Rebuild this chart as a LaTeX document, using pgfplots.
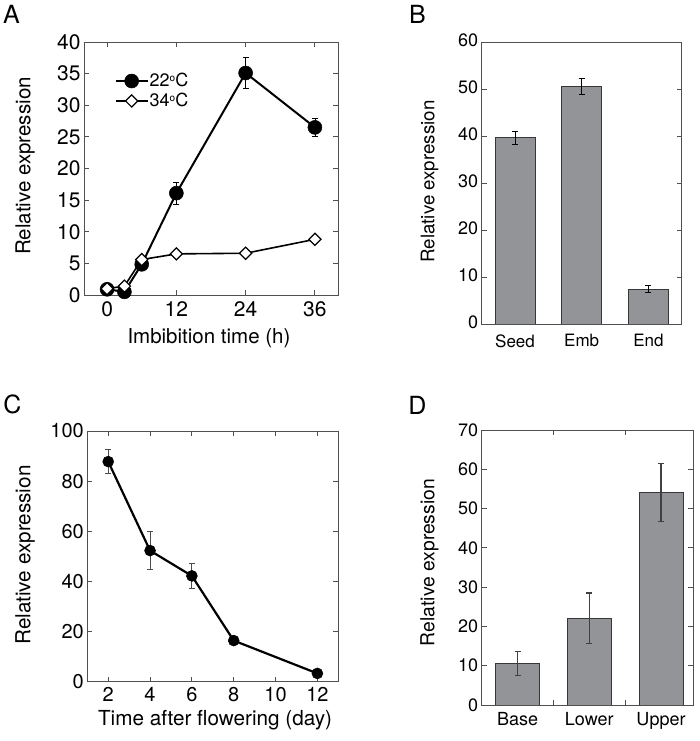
\documentclass[border=0pt]{standalone}
\usepackage{fontspec}
\setmainfont{TeX Gyre Heros}
\usepackage{pgfplots}
\pgfplotsset{compat=1.18}
\usepackage{pgfplotstable}

\definecolor{axisgray}{RGB}{80,80,80}
\definecolor{bargray}{RGB}{147,148,152}
\definecolor{baredge}{RGB}{55,55,55}
\newcommand{\fs}[1]{\fontsize{#1}{#1}\selectfont}
\newcommand{\degsym}{\raisebox{0.55ex}{\fs{10}o}}

\pgfplotstableread{
x y e
0 0.9 0
3 0.5 0
6 4.85 0
12 16.1 1.7
24 35.1 2.4
36 26.5 1.4
}\dataAwarm
\pgfplotstableread{
x y
0 1.0
3 1.4
6 5.6
12 6.5
24 6.6
36 8.8
}\dataAhot
\pgfplotstableread{
x y e
0 39.6 1.35
1 50.5 1.65
2 7.4 0.75
}\dataB
\pgfplotstableread{
x y e
2 87.8 4.8
4 52.3 7.6
6 42.2 4.8
8 16.4 0
12 3.3 0
}\dataC
\pgfplotstableread{
x y e
0 10.6 3.1
1 22.1 6.4
2 54.1 7.3
}\dataD

\pgfplotsset{
  panel/.style={
    scale only axis,
    anchor=south west,
    axis line style={axisgray, line width=0.9pt},
    tick style={axisgray, line width=0.9pt},
    major tick length=5pt,
    tick align=inside,
    /pgf/number format/assume math mode=true,
    ylabel style={anchor=center},
    xlabel style={anchor=center},
  },
}

\begin{document}
\begin{tikzpicture}
\path[use as bounding box] (0pt,0pt) rectangle (700pt,741pt);

% Panel A
\begin{axis}[panel,
  at={(84pt,446pt)}, width=254pt, height=253pt,
  xmin=-4, xmax=40, ymin=0, ymax=40,
  xtick={0,12,24,36}, ytick={0,5,...,40},
  tick label style={font=\fs{21}},
  xticklabel style={yshift=-3pt},
  xlabel={Imbibition time (h)}, ylabel={Relative expression},
  label style={font=\fs{20.5}},
  xlabel style={at={(axis description cs:0.492,-0.170)}},
  ylabel style={at={(axis description cs:-0.232,0.51)}},
  legend style={draw=none, fill=none, at={(axis description cs:0.12,0.88)}, anchor=north west,
    font=\fs{18}, inner sep=0pt, row sep=3pt, nodes={inner sep=1pt}},
  legend cell align=left,
  legend image code/.code={\draw[mark repeat=2,mark phase=2] plot coordinates {(0pt,0pt) (16pt,0pt) (32pt,0pt)};},
]
\addplot[black, line width=2pt, mark=*, mark size=7pt, mark options={fill=black, line width=0.5pt},
  error bars/.cd, y dir=both, y explicit,
  error bar style={line width=0.8pt, black},
  error mark options={rotate=90, mark size=3pt, line width=0.8pt}]
  table[x=x, y=y, y error=e] {\dataAwarm};
\addlegendentry{22\degsym C}
\addplot[black, line width=1.6pt, mark=square*, mark size=4.3pt, mark options={fill=white, rotate=45, line width=1.2pt}]
  table[x=x, y=y] {\dataAhot};
\addlegendentry{34\degsym C}
\end{axis}

% Panel B
\begin{axis}[panel,
  at={(481.7pt,417pt)}, width=200pt, height=282pt,
  xmin=-0.5, xmax=2.5, ymin=0, ymax=60,
  xtick={0,1,2}, xticklabels={Seed,Emb,End},
  xtick style={draw=none},
  ytick={0,10,...,60},
  yticklabel style={font=\fs{18}, yshift=2pt},
  xticklabel style={font=\fs{17}, yshift=-7pt},
  ylabel={Relative expression},
  label style={font=\fs{18.7}},
  ylabel style={at={(axis description cs:-0.261,0.505)}},
]
\addplot[ybar, bar width=0.6, fill=bargray, draw=baredge, line width=0.8pt,
  error bars/.cd, y dir=both, y explicit,
  error bar style={line width=0.8pt, black},
  error mark options={rotate=90, mark size=3pt, line width=0.8pt}]
  table[x=x, y=y, y error=e] {\dataB};
\end{axis}

% Panel C
\begin{axis}[panel,
  at={(87.3pt,59.3pt)}, width=251pt, height=250.7pt,
  xmin=1, xmax=13, ymin=0, ymax=100,
  xtick={2,4,...,12}, ytick={0,20,...,100},
  tick label style={font=\fs{20}},
  xticklabel style={yshift=-2pt},
  xlabel={Time after flowering (day)}, ylabel={Relative expression},
  label style={font=\fs{20.7}},
  xlabel style={at={(axis description cs:0.509,-0.153)}},
  ylabel style={at={(axis description cs:-0.248,0.505)}},
]
\addplot[black, line width=2.2pt, mark=*, mark size=5.5pt, mark options={fill=black, line width=0.5pt},
  error bars/.cd, y dir=both, y explicit,
  error bar style={line width=0.8pt, black!70},
  error mark options={rotate=90, mark size=3pt, line width=0.8pt, black!70}]
  table[x=x, y=y, y error=e] {\dataC};
\end{axis}

% Panel D
\begin{axis}[panel,
  at={(481.7pt,36pt)}, width=211.6pt, height=275pt,
  xmin=-0.5, xmax=2.45, ymin=0, ymax=70,
  xtick={0.5,1.5}, xticklabels={},
  extra x ticks={0,1,2}, extra x tick labels={Base,Lower,Upper},
  extra x tick style={major tick length=0pt},
  ytick={0,10,...,70},
  yticklabel style={font=\fs{18}},
  xticklabel style={font=\fs{18}, yshift=-4pt},
  ylabel={Relative expression},
  label style={font=\fs{19.3}},
  ylabel style={at={(axis description cs:-0.247,0.518)}},
]
\addplot[ybar, bar width=0.61, fill=bargray, draw=baredge, line width=0.8pt,
  error bars/.cd, y dir=both, y explicit,
  error bar style={line width=1.2pt, black!75},
  error mark options={rotate=90, mark size=3pt, line width=1.2pt, black!75}]
  table[x=x, y=y, y error=e] {\dataD};
\end{axis}

% Panel letters
\node[font=\fs{25}] at (11.5pt,727pt) {A};
\node[font=\fs{25}] at (417.5pt,727pt) {B};
\node[font=\fs{25}] at (12.5pt,337pt) {C};
\node[font=\fs{25}] at (417.5pt,336pt) {D};
\end{tikzpicture}
\end{document}
